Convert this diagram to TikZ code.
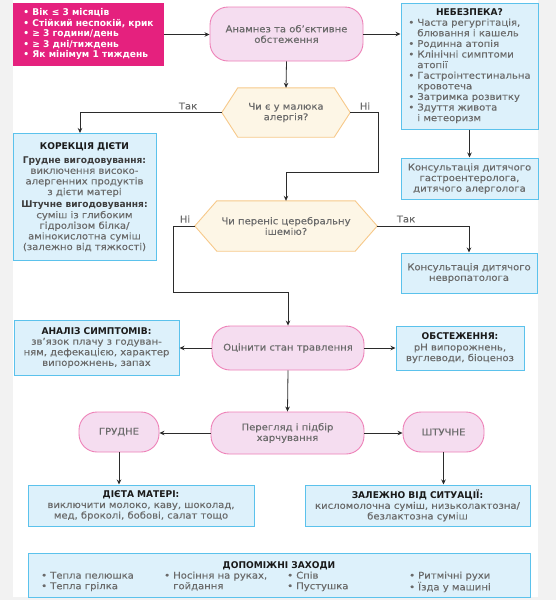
\documentclass[tikz,border=0pt]{standalone}
\usepackage{fontspec}
\setmainfont{DejaVu Sans}[UprightFeatures={FakeStretch=1.08,FakeBold=0.2}, BoldFeatures={FakeStretch=0.975}]
\usetikzlibrary{arrows.meta,backgrounds}
\definecolor{magbg}{HTML}{E5217E}
\definecolor{pinkfill}{HTML}{F5DDF0}
\definecolor{pinkdraw}{HTML}{EE82B8}
\definecolor{bluefill}{HTML}{DDF1FB}
\definecolor{bluedraw}{HTML}{5BC2EC}
\definecolor{hexfill}{HTML}{FDF6E6}
\definecolor{hexdraw}{HTML}{F7C98A}
\definecolor{txtgray}{HTML}{6A6A6A}
\definecolor{titleblk}{HTML}{1A1A1A}
\definecolor{linecol}{HTML}{2B2B2B}
\definecolor{pagegray}{HTML}{F2F2F2}
\newcommand\fs{\fontsize{9.3}{10.6}\selectfont}
\newcommand\bl{\makebox[9pt][l]{•}}
\newcommand\ind{\hspace*{9pt}}
\newcommand\ttl[1]{{\bfseries\color{titleblk}#1}}
\tikzset{
  box/.style={draw=bluedraw, fill=bluefill, line width=1pt, inner sep=0pt, align=center, font=\fs, text=txtgray},
  pill/.style={draw=pinkdraw, fill=pinkfill, line width=0.9pt, rounded corners=18pt, inner sep=0pt, align=center, font=\fs, text=txtgray},
  hexnode/.style={inner sep=0pt, align=center, font=\fs, text=txtgray},
  hexline/.style={draw=hexdraw, fill=hexfill, line width=0.9pt},
  magbox/.style={fill=magbg, inner sep=0pt, align=left, font=\fs\bfseries, text=white},
  arr/.style={draw=linecol, line width=0.8pt, -{Stealth[length=5pt,width=4.5pt]}},
  lab/.style={font=\fs, text=txtgray, inner sep=0pt},
  plain/.style={inner sep=0pt, font=\fs, text=txtgray, align=left}
}
\begin{document}
\begin{tikzpicture}[x=1pt,y=-1pt]
\useasboundingbox (0,0) rectangle (556,600);
\begin{scope}[on background layer]
\fill[pagegray] (0,0) rectangle (556,600);
\fill[white] (13,0) rectangle (538,597);
\end{scope}

% top row
\node[magbox, minimum width=151pt, minimum height=63pt] (pink) at (88.5,34.5)
  {\begin{tabular}{@{}l@{}}\bl Вік ≤ 3 місяців\\ \bl Стійкий неспокій, крик\\ \bl ≥ 3 години/день\\ \bl ≥ 3 дні/тиждень\\ \bl Як мінімум 1 тиждень\end{tabular}};
\node[pill, minimum width=153pt, minimum height=54pt] (anam) at (286.5,34) {Анамнез та об’єктивне\\обстеження};
\node[box, minimum width=137pt, minimum height=126pt] (danger) at (469.5,66)
  {\begin{tabular}{@{}l@{}}\multicolumn{1}{@{}c@{}}{\ttl{НЕБЕЗПЕКА?}}\\
   \bl Часта регургітація,\\ \ind блювання і кашель\\ \bl Родинна атопія\\ \bl Клінічні симптоми\\ \ind атопії\\
   \bl Гастроінтестинальна\\ \ind кровотеча\\ \bl Затримка розвитку\\ \bl Здуття живота\\ \ind і метеоризм\end{tabular}};
\node[box, minimum width=137pt, minimum height=41pt] (gastro) at (469.5,178.5) {Консультація дитячого\\гастроентеролога,\\дитячого алерголога};

% hexagon 1
\node[hexnode, minimum width=128pt, minimum height=49pt] (hex1) at (286,112.5) {Чи є у малюка\\алергія?};
\begin{scope}[on background layer]
\path[hexline] (hex1.west) -- ([xshift=16pt]hex1.north west) -- ([xshift=-16pt]hex1.north east) -- (hex1.east)
  -- ([xshift=-16pt]hex1.south east) -- ([xshift=16pt]hex1.south west) -- cycle;
\end{scope}

\node[box, minimum width=143pt, minimum height=127pt] (corr) at (84.5,197)
  {\ttl{КОРЕКЦІЯ ДІЄТИ}\\[3pt]
   {\bfseries\color{titleblk!85}Грудне вигодовування:}\\виключення високо-\\алергенних продуктів\\з дієти матері\\[2pt]
   {\bfseries\color{titleblk!85}Штучне вигодовування:}\\суміш із глибоким\\гідролізом білка/\\амінокислотна суміш\\(залежно від тяжкості)};

% hexagon 2
\node[hexnode, minimum width=182pt, minimum height=50pt] (hex2) at (286,226) {Чи переніс церебральну\\ішемію?};
\begin{scope}[on background layer]
\path[hexline] (hex2.west) -- ([xshift=22pt]hex2.north west) -- ([xshift=-22pt]hex2.north east) -- (hex2.east)
  -- ([xshift=-22pt]hex2.south east) -- ([xshift=22pt]hex2.south west) -- cycle;
\end{scope}
\node[box, minimum width=136pt, minimum height=40pt] (neuro) at (469,273) {Консультація дитячого\\невропатолога};

% digestion row
\node[pill, minimum width=152pt, minimum height=44pt] (ocin) at (288,348) {Оцінити стан травлення};
\node[box, minimum width=165pt, minimum height=55pt] (analiz) at (96.5,347.5)
  {\ttl{АНАЛІЗ СИМПТОМІВ:}\\зв’язок плачу з годуван-\\ням, дефекацією, характер\\випорожнень, запах};
\node[box, minimum width=128pt, minimum height=44pt] (obst) at (460,348)
  {\ttl{ОБСТЕЖЕННЯ:}\\рН випорожнень,\\вуглеводи, біоценоз};

% feeding row
\node[pill, minimum width=153pt, minimum height=42pt] (pereg) at (287.5,433) {Перегляд і підбір\\харчування};
\node[pill, minimum width=80pt, minimum height=40pt] (grud) at (119,432) {ГРУДНЕ};
\node[pill, minimum width=81pt, minimum height=40pt] (shtuch) at (443.5,432) {ШТУЧНЕ};
\node[box, minimum width=226pt, minimum height=41pt] (diet) at (141,505.5)
  {\ttl{ДІЄТА МАТЕРІ:}\\виключити молоко, каву, шоколад,\\мед, броколі, бобові, салат тощо};
\node[box, minimum width=225pt, minimum height=41pt] (situ) at (417.5,505.5)
  {\ttl{ЗАЛЕЖНО ВІД СИТУАЦІЇ:}\\кисломолочна суміш, низьколактозна/\\безлактозна суміш};

% bottom box
\node[box, minimum width=502pt, minimum height=44pt] (extra) at (279,575) {};
\node[lab] (extratitle) at (279,566) {\ttl{ДОПОМІЖНІ ЗАХОДИ}};
\node[plain, anchor=north west] (c1) at (41,571) {\begin{tabular}{@{}l@{}}\bl Тепла пелюшка\\ \bl Тепла грілка\end{tabular}};
\node[plain, anchor=north west] (c2) at (164,571) {\begin{tabular}{@{}l@{}}\bl Носіння на руках,\\ \ind гойдання\end{tabular}};
\node[plain, anchor=north west] (c3) at (287,571) {\begin{tabular}{@{}l@{}}\bl Спів\\ \bl Пустушка\end{tabular}};
\node[plain, anchor=north west] (c4) at (409,571) {\begin{tabular}{@{}l@{}}\bl Ритмічні рухи\\ \bl Їзда у машині\end{tabular}};

% labels
\node[lab] (t1) at (188,106) {Так};
\node[lab] (n1) at (365,106) {Ні};
\node[lab] (n2) at (185,219) {Ні};
\node[lab] (t2) at (406,219) {Так};

% connectors
\coordinate (j1) at (378,172);
\coordinate (j2) at (173,292);
\draw[arr] (pink.east) -- (pink.east -| anam.west);
\draw[arr] (anam.east) -- (anam.east -| danger.west);
\draw[arr] (danger.south) -- (gastro.north);
\draw[arr] (anam.south) -- (hex1.north);
\draw[arr] (hex1.west) -| ([xshift=-4.5pt]corr.north);
\draw[arr] (hex1.east) -| (j1) -| (hex2.north);
\draw[arr] (hex2.west) -| (j2) -| (ocin.north);
\draw[arr] (hex2.east) -| (neuro.north);
\draw[arr] (ocin.west) -- (ocin.west -| analiz.east);
\draw[arr] (ocin.east) -- (ocin.east -| obst.west);
\draw[arr] (ocin.south) -- (pereg.north);
\draw[arr] (pereg.west) -- (pereg.west -| grud.east);
\draw[arr] (pereg.east) -- (pereg.east -| shtuch.west);
\draw[arr] (grud.south) -- (grud.south |- diet.north);
\draw[arr] (shtuch.south) -- (shtuch.south |- situ.north);
\end{tikzpicture}
\end{document}
